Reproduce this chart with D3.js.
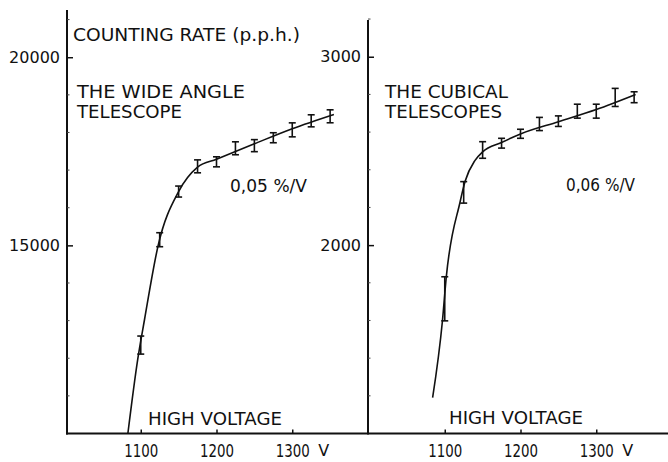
<!DOCTYPE html>
<html>
<head>
<meta charset="utf-8">
<script src="https://cdn.jsdelivr.net/npm/d3@7"></script>
<style>
  body { margin: 0; background: #fff; }
  text { font-family: "DejaVu Sans", sans-serif; fill: #111; }
</style>
</head>
<body>
<script>
// counting rate vs high voltage, two telescopes

var voltages = [1100, 1125, 1150, 1175, 1200, 1225, 1250, 1275, 1300, 1325, 1350];

var wideRate = [12350, 15150, 16430, 17100, 17220, 17580, 17650, 17860, 18070, 18310, 18430];
var wideErr = [240, 186, 146, 172, 133, 172, 160, 133, 186, 160, 172];

var cubicRate = [1715, 2280, 2505, 2541, 2591, 2643, 2658, 2711, 2711, 2784, 2785];
var cubicErr = [117, 57, 44, 26, 24, 35, 28, 37, 37, 48, 29];

// fitted curves as drawn
var wideCurveV = [1083, 1096, 1105, 1123, 1150, 1175, 1200, 1250, 1300, 1355];
var wideCurveRate = [10000, 11970, 13030, 15000, 16430, 17080, 17290, 17700, 18100, 18480];

var cubicCurveV = [1084, 1097, 1102, 1120, 1127, 1140, 1150, 1175, 1200, 1250, 1300, 1352];
var cubicCurveRate = [1190, 1600, 1830, 2225, 2340, 2450, 2495, 2545, 2590, 2655, 2720, 2800];

var xTicks = [1100, 1200, 1300];
var wideTicks = [15000, 20000];
var cubicTicks = [2000, 3000];
var wideMinor = d3.range(11000, 21001, 1000);
var cubicMinor = d3.range(1200, 3201, 200);

var width = 668, height = 462;
var baseY = 433.5;

var svg = d3.select("body").append("svg")
    .attr("width", width)
    .attr("height", height);

var xL = d3.scaleLinear().domain([1000, 1400]).range([65, 368]);
var xR = d3.scaleLinear().domain([1000, 1400]).range([369, 672]);
var yL = d3.scaleLinear().domain([10000, 21255]).range([baseY, 10]);
var yR = d3.scaleLinear().domain([1000, 3195]).range([baseY, 20]);

var panels = [
    { x: xL, y: yL, axisX: 67, rate: wideRate, err: wideErr, cv: wideCurveV, cr: wideCurveRate,
      ticks: wideTicks, minor: wideMinor },
    { x: xR, y: yR, axisX: 368, rate: cubicRate, err: cubicErr, cv: cubicCurveV, cr: cubicCurveRate,
      ticks: cubicTicks, minor: cubicMinor }
];

// baseline across both panels
svg.append("line")
    .attr("x1", 66).attr("x2", 668)
    .attr("y1", baseY).attr("y2", baseY)
    .attr("stroke", "#111").attr("stroke-width", 2);

panels.forEach(function (p) {
    var top = p.y.range()[1];

    // x axis ticks + labels
    var ax = svg.append("g")
        .attr("transform", "translate(0," + baseY + ")")
        .call(d3.axisBottom(p.x).tickValues(xTicks).tickSizeInner(-4).tickSizeOuter(0).tickPadding(11)
            .tickFormat(d3.format("d")));
    ax.select(".domain").remove();
    ax.selectAll("line").attr("stroke", "#111").attr("stroke-width", 1.5);
    ax.selectAll("text")
        .attr("font-size", 17).attr("font-family", "DejaVu Sans").attr("fill", "#111")
        .attr("textLength", 34).attr("lengthAdjust", "spacingAndGlyphs");

    svg.append("text")
        .attr("x", p.x(1300) + 26).attr("y", 456)
        .attr("font-size", 16)
        .text("V");

    // y axis
    var ay = svg.append("g")
        .attr("transform", "translate(" + p.axisX + ",0)")
        .call(d3.axisLeft(p.y).tickValues(p.ticks).tickSizeInner(-6).tickSizeOuter(0).tickPadding(7)
            .tickFormat(d3.format("d")));
    ay.select(".domain").remove();
    ay.selectAll("line").attr("stroke", "#111").attr("stroke-width", 1.5);
    ay.selectAll("text").attr("font-size", 16).attr("font-family", "DejaVu Sans").attr("fill", "#111");

    svg.append("line")
        .attr("x1", p.axisX).attr("x2", p.axisX)
        .attr("y1", top).attr("y2", baseY + 1)
        .attr("stroke", "#111").attr("stroke-width", 2);

    svg.append("g").selectAll("line")
        .data(p.minor.filter(function (d) { return p.ticks.indexOf(d) < 0; }))
        .enter().append("line")
        .attr("x1", p.axisX).attr("x2", p.axisX + 2.5)
        .attr("y1", function (d) { return p.y(d); })
        .attr("y2", function (d) { return p.y(d); })
        .attr("stroke", "#444").attr("stroke-width", 1);

    // fitted curve
    var line = d3.line()
        .curve(d3.curveMonotoneX)
        .x(function (d) { return p.x(d[0]); })
        .y(function (d) { return p.y(d[1]); });

    svg.append("path")
        .datum(d3.zip(p.cv, p.cr))
        .attr("d", line)
        .attr("fill", "none")
        .attr("stroke", "#111")
        .attr("stroke-width", 1.6);

    // error bars
    var bars = svg.append("g").selectAll("g")
        .data(voltages.map(function (v, i) { return { v: v, r: p.rate[i], e: p.err[i] }; }))
        .enter().append("g")
        .attr("stroke", "#111").attr("stroke-width", 1.6);

    bars.append("line")
        .attr("x1", function (d) { return p.x(d.v); })
        .attr("x2", function (d) { return p.x(d.v); })
        .attr("y1", function (d) { return p.y(d.r - d.e); })
        .attr("y2", function (d) { return p.y(d.r + d.e); });
    [-1, 1].forEach(function (s) {
        bars.append("line")
            .attr("x1", function (d) { return p.x(d.v) - 3.5; })
            .attr("x2", function (d) { return p.x(d.v) + 3.5; })
            .attr("y1", function (d) { return p.y(d.r + s * d.e); })
            .attr("y2", function (d) { return p.y(d.r + s * d.e); });
    });
});

// labels
function label(txt, x, y, len, size) {
    svg.append("text")
        .attr("x", x).attr("y", y)
        .attr("font-size", size || 17)
        .attr("textLength", len)
        .attr("lengthAdjust", "spacingAndGlyphs")
        .text(txt);
}

label("COUNTING RATE (p.p.h.)", 73, 41, 227);
label("THE WIDE ANGLE", 77, 98, 168);
label("TELESCOPE", 77, 118, 105);
label("THE CUBICAL", 385, 98, 123);
label("TELESCOPES", 385, 118, 117);
label("0,05 %/V", 230, 192, 77, 17);
label("0,06 %/V", 566, 191, 69, 17);
label("HIGH VOLTAGE", 148, 425, 134);
label("HIGH VOLTAGE", 449, 424, 134);
</script>
</body>
</html>
